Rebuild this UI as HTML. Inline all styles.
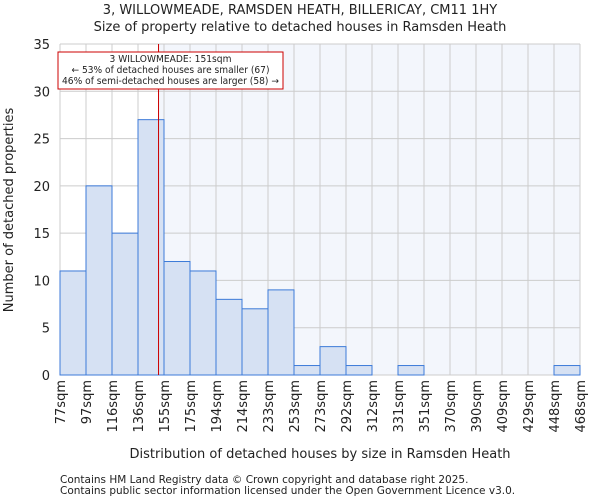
<!DOCTYPE html>
<html><head><meta charset="utf-8"><style>
body{margin:0;background:#fff;font-family:"DejaVu Sans","Liberation Sans",sans-serif}
svg text{font-family:"DejaVu Sans","Liberation Sans",sans-serif;fill:#222}
</style></head><body>
<svg id="c" width="600" height="500" xmlns="http://www.w3.org/2000/svg"></svg>
<script>
const binLabels=["77sqm","97sqm","116sqm","136sqm","155sqm","175sqm","194sqm","214sqm","233sqm","253sqm","273sqm","292sqm","312sqm","331sqm","351sqm","370sqm","390sqm","409sqm","429sqm","448sqm","468sqm"];
const binEdges=[77,97,116,136,155,175,194,214,233,253,273,292,312,331,351,370,390,409,429,448,468];
const counts=[11,20,15,27,12,11,8,7,9,1,3,1,0,1,0,0,0,0,0,1];
const yTicks=[0,5,10,15,20,25,30,35];
const propertySize=151;
const L=60,R=580,T=44,B=375,yMax=35;
const svg=document.getElementById('c');
const NS='http://www.w3.org/2000/svg';
function el(t,a,p){const e=document.createElementNS(NS,t);for(const k in a)e.setAttribute(k,a[k]);(p||svg).appendChild(e);return e;}
const nb=counts.length,bw=(R-L)/nb;
function xi(i){return L+i*bw;}
function xv(v){let i=0;while(i<nb-1&&v>binEdges[i+1])i++;return xi(i)+(v-binEdges[i])/(binEdges[i+1]-binEdges[i])*bw;}
function y(v){return B-v/yMax*(B-T);}
const px=xv(propertySize);
let r=el('rect',{x:L,y:T,width:px-L,height:B-T,fill:'#ffffff'});

r=el('rect',{x:px,y:T,width:R-px,height:B-T,fill:'#f3f6fc'});

for(let i=0;i<=nb;i++){const g=el('line',{x1:xi(i),x2:xi(i),y1:T,y2:B,stroke:'#cccccc','stroke-width':1});
}
yTicks.forEach(t=>{const g=el('line',{x1:L,x2:R,y1:y(t),y2:y(t),stroke:'#cccccc','stroke-width':1});

const tx=el('text',{x:L-10,y:y(t)+5,'text-anchor':'end','font-size':13});tx.textContent=t;
});
counts.forEach((c,i)=>{if(c<=0)return;const b=el('rect',{x:xi(i),y:y(c),width:bw,height:B-y(c),fill:'#d6e1f3',stroke:'#3c7ad8','stroke-width':1});
});
binLabels.forEach((l,i)=>{const tx=el('text',{transform:`translate(${xi(i)+5},${B+5}) rotate(-90)`,'text-anchor':'end','font-size':13});tx.textContent=l;
});
let ln=el('line',{x1:px,x2:px,y1:T,y2:B,stroke:'#cc0000','stroke-width':1});

let box=el('rect',{x:58,y:52,width:225,height:37,fill:'#fff',stroke:'#cc0000','stroke-width':1});

const annW=[122,198,217];
["3 WILLOWMEADE: 151sqm","← 53% of detached houses are smaller (67)","46% of semi-detached houses are larger (58) →"].forEach((s,i)=>{
const tx=el('text',{x:170.5,y:62+i*11,'text-anchor':'middle','font-size':9.5,textLength:annW[i],lengthAdjust:'spacingAndGlyphs'});tx.textContent=s;
});
const tt=[["3, WILLOWMEADE, RAMSDEN HEATH, BILLERICAY, CM11 1HY",14,'chart-title'],["Size of property relative to detached houses in Ramsden Heath",31,'chart-subtitle']];
tt.forEach(([s,yy,n])=>{const tx=el('text',{x:300,y:yy,'text-anchor':'middle','font-size':13});tx.textContent=s;
});
let xt=el('text',{x:320,y:458,'text-anchor':'middle','font-size':13});xt.textContent='Distribution of detached houses by size in Ramsden Heath';

let yt=el('text',{transform:'translate(13,210) rotate(-90)','text-anchor':'middle','font-size':13});yt.textContent='Number of detached properties';

["Contains HM Land Registry data © Crown copyright and database right 2025.","Contains public sector information licensed under the Open Government Licence v3.0."].forEach((s,i)=>{
const tx=el('text',{x:60,y:483+i*11,'font-size':10.5,fill:'#444'});tx.textContent=s;
});
</script>
</body></html>
